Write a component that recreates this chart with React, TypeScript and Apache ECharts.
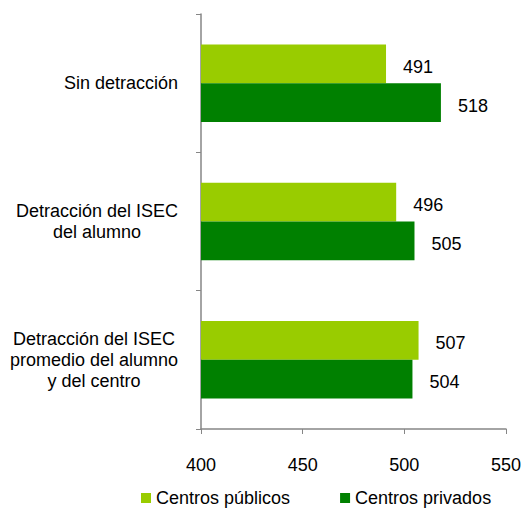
import React, { useEffect, useRef } from "react";
import * as echarts from "echarts";

const categories = [
  "Sin detracción",
  "Detracción del ISEC\ndel alumno",
  "Detracción del ISEC\npromedio del alumno\ny del centro",
];
const seriesNames = ["Centros públicos", "Centros privados"];
const publicos = [491, 496, 507];
const privados = [518, 505, 504];
const xTicks = [400, 450, 500, 550];

const FONT = "'Liberation Sans', Arial, sans-serif";
const FS = 18;

export default function App() {
  const ref = useRef<HTMLDivElement>(null);
  useEffect(() => {
    if (!ref.current) return;
    const chart = echarts.init(ref.current, undefined, { renderer: "svg" });
    const valueLabel = {
      show: true,
      position: "right",
      distance: 17,
      offset: [0, 3],
      fontSize: FS,
      color: "#000",
      fontFamily: FONT,
    };
    chart.setOption({
      animation: false,
      textStyle: { fontFamily: FONT },
      grid: { left: 201, right: 18, top: 14, bottom: 79, containLabel: false },
      legend: {
        data: seriesNames,
        left: 141,
        top: 489,
        padding: 0,
        itemWidth: 10,
        itemHeight: 10,
        itemGap: 50,
        icon: "rect",
        textStyle: { fontSize: FS, color: "#000", fontFamily: FONT },
      },
      xAxis: {
        type: "value",
        min: xTicks[0],
        max: xTicks[xTicks.length - 1],
        interval: 50,
        splitLine: { show: false },
        axisLine: { show: true, lineStyle: { color: "#868686", width: 1.5 } },
        axisTick: { show: true, length: 5, inside: false, lineStyle: { color: "#868686" } },
        axisLabel: { fontSize: FS, color: "#000", margin: 27, fontFamily: FONT },
      },
      yAxis: {
        type: "category",
        data: categories,
        inverse: true,
        axisLine: { show: true, lineStyle: { color: "#868686", width: 1.5 } },
        axisTick: { show: true, length: 5, lineStyle: { color: "#868686" } },
        axisLabel: {
          color: "#000",
          align: "right",
          margin: 23,
          formatter: (v: string) =>
            v
              .split("\n")
              .map((l) => `{c|${l}}`)
              .join("\n"),
          rich: {
            c: {
              fontSize: FS,
              lineHeight: 21,
              align: "center",
              color: "#000",
              fontFamily: FONT,
            },
          },
        },
      },
      series: [
        {
          name: seriesNames[0],
          type: "bar",
          data: publicos,
          barCategoryGap: "44%",
          barGap: "0%",
          itemStyle: { color: "#99CC00" },
          label: valueLabel,
        },
        {
          name: seriesNames[1],
          type: "bar",
          data: privados,
          barCategoryGap: "44%",
          barGap: "0%",
          itemStyle: { color: "#008000" },
          label: valueLabel,
        },
      ],
    });
    return () => chart.dispose();
  }, []);
  return <div ref={ref} style={{ width: 524, height: 508, position: "absolute", left: 0, top: 0 }} />;
}
